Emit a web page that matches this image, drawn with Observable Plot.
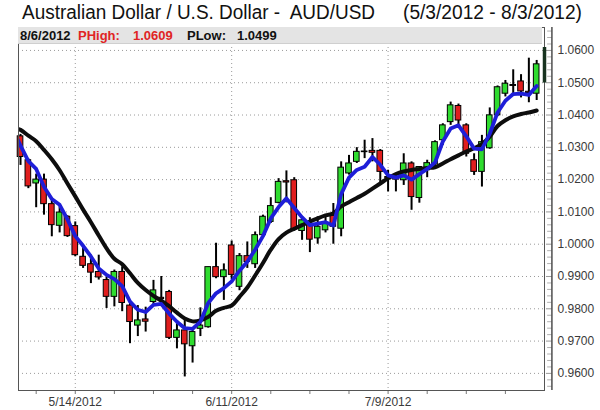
<!DOCTYPE html>
<html>
<head>
<meta charset="utf-8">
<script src="https://cdn.jsdelivr.net/npm/d3@7"></script>
<script src="https://cdn.jsdelivr.net/npm/@observablehq/plot@0.6"></script>
<style>
  body { margin: 0; background: #fff; }
  #wrap { position: relative; width: 600px; height: 410px; overflow: hidden; font-family: "Liberation Sans", Arial, sans-serif; }
  #chart { position: absolute; left: 0; top: 0; }
  #title { position: absolute; left: 0; top: 0; }
  #title text { white-space: pre; }
  #info { position: absolute; left: 18px; top: 27px; width: 524px; height: 16px; background: #e4e4e4; border-bottom: 1px solid #cfcfcf; }
  #info span { position: absolute; top: 1px; font-size: 13px; font-weight: bold; line-height: 15px; white-space: pre; }
</style>
</head>
<body>
<div id="wrap">
  <div id="chart"></div>
  <svg id="title" width="600" height="26">
    <text x="22" y="19" font-size="20" fill="#111" textLength="353" lengthAdjust="spacingAndGlyphs" xml:space="preserve" font-family="Liberation Sans, Arial, sans-serif">Australian Dollar / U.S. Dollar -  AUD/USD</text>
    <text x="403" y="19" font-size="20" fill="#111" textLength="179" lengthAdjust="spacingAndGlyphs" font-family="Liberation Sans, Arial, sans-serif">(5/3/2012 - 8/3/2012)</text>
  </svg>
  <div id="info">
    <span style="left:2px;color:#111">8/6/2012</span>
    <span style="left:60px;color:#e02424;font-weight:600">PHigh:</span>
    <span style="left:115px;color:#e02424;font-weight:600">1.0609</span>
    <span style="left:169px;color:#111">PLow:</span>
    <span style="left:219px;color:#111">1.0499</span>
  </div>
</div>
<script>
// Daily AUD/USD candles, 5/3/2012 .. 8/3/2012 (index 0 .. 66)
const opens = [1.0334, 1.0260, 1.0188, 1.0200, 1.0124, 1.0057, 1.0085, 1.0056, 0.9961, 0.9938,
  0.9914, 0.9889, 0.9837, 0.9914, 0.9810, 0.9748, 0.9767, 0.9821, 0.9834, 0.9852,
  0.9710, 0.9733, 0.9684, 0.9738, 0.9743, 0.9929, 0.9898, 0.9996, 0.9868, 0.9963,
  0.9938, 1.0028, 1.0069, 1.0128, 1.0195, 1.0198, 1.0041, 1.0059, 1.0018, 1.0043,
  1.0088, 1.0048, 1.0219, 1.0255, 1.0287, 1.0289, 1.0289, 1.0208, 1.0206, 1.0198,
  1.0250, 1.0143, 1.0229, 1.0247, 1.0322, 1.0378, 1.0428, 1.0368, 1.0260, 1.0224,
  1.0297, 1.0399, 1.0466, 1.0493, 1.0504, 1.0472, 1.0466];
const highs = [1.0340, 1.0264, 1.0217, 1.0217, 1.0136, 1.0115, 1.0088, 1.0069, 0.9992, 0.9966,
  0.9966, 0.9899, 0.9920, 0.9930, 0.9820, 0.9810, 0.9805, 0.9888, 0.9900, 0.9857,
  0.9754, 0.9764, 0.9733, 0.9803, 0.9929, 1.0003, 0.9939, 1.0010, 0.9971, 1.0007,
  1.0038, 1.0090, 1.0144, 1.0203, 1.0227, 1.0206, 1.0079, 1.0082, 1.0085, 1.0085,
  1.0126, 1.0255, 1.0275, 1.0299, 1.0322, 1.0327, 1.0293, 1.0229, 1.0217, 1.0280,
  1.0255, 1.0240, 1.0260, 1.0320, 1.0373, 1.0440, 1.0434, 1.0373, 1.0280, 1.0337,
  1.0422, 1.0490, 1.0507, 1.0540, 1.0525, 1.0576, 1.0569];
const lows = [1.0244, 1.0172, 1.0113, 1.0090, 1.0023, 1.0035, 1.0021, 0.9961, 0.9925, 0.9878,
  0.9889, 0.9801, 0.9806, 0.9791, 0.9692, 0.9714, 0.9728, 0.9807, 0.9810, 0.9705,
  0.9676, 0.9589, 0.9632, 0.9714, 0.9740, 0.9893, 0.9826, 0.9890, 0.9856, 0.9925,
  0.9925, 1.0020, 1.0064, 1.0125, 1.0128, 1.0040, 1.0012, 0.9974, 1.0000, 1.0035,
  1.0000, 1.0023, 1.0214, 1.0250, 1.0265, 1.0255, 1.0182, 1.0162, 1.0162, 1.0182,
  1.0105, 1.0127, 1.0206, 1.0240, 1.0306, 1.0368, 1.0368, 1.0270, 1.0213, 1.0177,
  1.0294, 1.0395, 1.0456, 1.0463, 1.0453, 1.0438, 1.0445];
const closes = [1.0270, 1.0179, 1.0200, 1.0124, 1.0059, 1.0098, 1.0025, 0.9966, 0.9933, 0.9912,
  0.9897, 0.9837, 0.9914, 0.9818, 0.9759, 0.9764, 0.9760, 0.9857, 0.9830, 0.9710,
  0.9733, 0.9690, 0.9728, 0.9748, 0.9929, 0.9898, 0.9919, 0.9905, 0.9963, 0.9945,
  1.0028, 1.0085, 1.0118, 1.0193, 1.0191, 1.0045, 1.0074, 1.0014, 1.0054, 1.0064,
  1.0054, 1.0237, 1.0250, 1.0286, 1.0285, 1.0283, 1.0224, 1.0204, 1.0200, 1.0250,
  1.0146, 1.0239, 1.0251, 1.0316, 1.0368, 1.0430, 1.0383, 1.0280, 1.0224, 1.0316,
  1.0399, 1.0486, 1.0497, 1.0490, 1.0473, 1.0468, 1.0557];

// Moving averages, starting at index -1 (5/2/2012)
const maStart = -1;
const fastMA = [1.0355, 1.0305, 1.0257, 1.0233, 1.0178, 1.0140, 1.0122, 1.0077, 1.0025, 0.9995, 0.9962,
  0.9925, 0.9905, 0.9892, 0.9870, 0.9822, 0.9797, 0.9790, 0.9812, 0.9815, 0.9785,
  0.9760, 0.9740, 0.9738, 0.9760, 0.9818, 0.9848, 0.9864, 0.9885, 0.9918, 0.9946,
  0.9983, 1.0025, 1.0080, 1.0115, 1.0142, 1.0112, 1.0083, 1.0059, 1.0064, 1.0068,
  1.0058, 1.0155, 1.0206, 1.0230, 1.0240, 1.0270, 1.0246, 1.0213, 1.0206, 1.0213,
  1.0200, 1.0217, 1.0233, 1.0253, 1.0318, 1.0358, 1.0368, 1.0334, 1.0296, 1.0294,
  1.0342, 1.0408, 1.0444, 1.0465, 1.0466, 1.0462, 1.0490];
const slowMA = [1.0362, 1.0354, 1.0336, 1.0319, 1.0292, 1.0263, 1.0229, 1.0188, 1.0148, 1.0107, 1.0068,
  1.0027, 0.9987, 0.9955, 0.9938, 0.9910, 0.9880, 0.9858, 0.9840, 0.9825, 0.9808,
  0.9788, 0.9770, 0.9761, 0.9764, 0.9775, 0.9794, 0.9803, 0.9810, 0.9837, 0.9866,
  0.9903, 0.9942, 0.9983, 1.0016, 1.0036, 1.0048, 1.0059, 1.0070, 1.0080, 1.0089,
  1.0096, 1.0117, 1.0130, 1.0143, 1.0156, 1.0172, 1.0188, 1.0204, 1.0217, 1.0225,
  1.0230, 1.0233, 1.0236, 1.0238, 1.0250, 1.0263, 1.0275, 1.0287, 1.0297, 1.0310,
  1.0333, 1.0366, 1.0384, 1.0396, 1.0403, 1.0408, 1.0414];

// Partial bar of 8/6/2012 (index 67)
const nextIndex = 67;
const nextHigh = 1.0609;
const nextLow = 1.0499;

// Axis ticks
const yTicks = [0.96, 0.97, 0.98, 0.99, 1.00, 1.01, 1.02, 1.03, 1.04, 1.05, 1.06];
const yMinorTicks = [0.956, 0.958, 0.962, 0.964, 0.966, 0.968, 0.972, 0.974, 0.976, 0.978,
  0.982, 0.984, 0.986, 0.988, 0.992, 0.994, 0.996, 0.998, 1.002, 1.004, 1.006, 1.008,
  1.012, 1.014, 1.016, 1.018, 1.022, 1.024, 1.026, 1.028, 1.032, 1.034, 1.036, 1.038,
  1.042, 1.044, 1.046, 1.048, 1.052, 1.054, 1.056, 1.058, 1.062, 1.064, 1.066];
const xLabelIndex = [7, 27, 47];
const xLabels = ["5/14/2012", "6/11/2012", "7/9/2012"];
const xWeekIndex = [2, 7, 12, 17, 22, 27, 32, 37, 42, 47, 52, 57, 62];

const candles = opens.map((o, i) => ({i, open: o, high: highs[i], low: lows[i], close: closes[i]}));
const fast = fastMA.map((v, k) => ({i: k + maStart, v}));
const slow = slowMA.map((v, k) => ({i: k + maStart, v}));
const labelOf = new Map(xLabelIndex.map((d, k) => [d, xLabels[k]]));

const grid = {stroke: "#9a9a9a", strokeOpacity: 1, strokeDasharray: "1,3"};

const chart = Plot.plot({
  width: 600,
  height: 410,
  marginTop: 27,
  marginBottom: 20,
  marginLeft: 18,
  marginRight: 56,
  x: {domain: [-0.26, 67]},
  y: {domain: [0.9547, 1.0671]},
  color: {type: "identity"},
  style: {fontFamily: "Liberation Sans, Arial, sans-serif", fontSize: "12px", color: "#333", background: "transparent"},
  marks: [
    Plot.gridY({ticks: yTicks, ...grid}),
    Plot.gridX({ticks: xLabelIndex, ...grid}),
    Plot.axisY({ticks: yTicks, anchor: "right", tickSize: 0, tickPadding: 13, tickFormat: d => d.toFixed(4), label: null, fill: "#3a3a3a"}),
    Plot.axisX({ticks: xLabelIndex, anchor: "bottom", tickSize: 0, tickPadding: 7, tickFormat: d => labelOf.get(d), label: null, fill: "#3a3a3a"}),
    Plot.axisX({ticks: xWeekIndex, anchor: "bottom", tickSize: 4, tickFormat: () => "", label: null, stroke: "#777"}),
    Plot.ruleY(yMinorTicks, {x1: 67.4, x2: 67.95, stroke: "#b0b0b0"}),
    Plot.ruleY(yTicks, {x1: 67.25, x2: 67.95, stroke: "#999"}),
    Plot.ruleX([67.95], {stroke: "#222", strokeWidth: 1.2}),
    Plot.ruleX(candles, {x: "i", y1: "low", y2: "high", stroke: "#000", strokeWidth: 2}),
    Plot.rect(candles, {
      x1: d => d.i - 0.36, x2: d => d.i + 0.36,
      y1: "open", y2: "close",
      fill: d => d.close >= d.open ? "#2fdc2f" : "#e01e1e",
      stroke: "#000", strokeWidth: 1
    }),
    Plot.line(slow, {x: "i", y: "v", stroke: "#0d0d0d", strokeWidth: 4, curve: "catmull-rom", clip: true}),
    Plot.line(fast, {x: "i", y: "v", stroke: "#1e1ed8", strokeWidth: 3.8, clip: true}),
    Plot.frame({stroke: "#555"}),
    Plot.ruleX([nextIndex], {y1: nextLow, y2: nextHigh, stroke: "#17321f", strokeWidth: 3.5})
  ]
});
document.getElementById("chart").appendChild(chart);
</script>
</body>
</html>
